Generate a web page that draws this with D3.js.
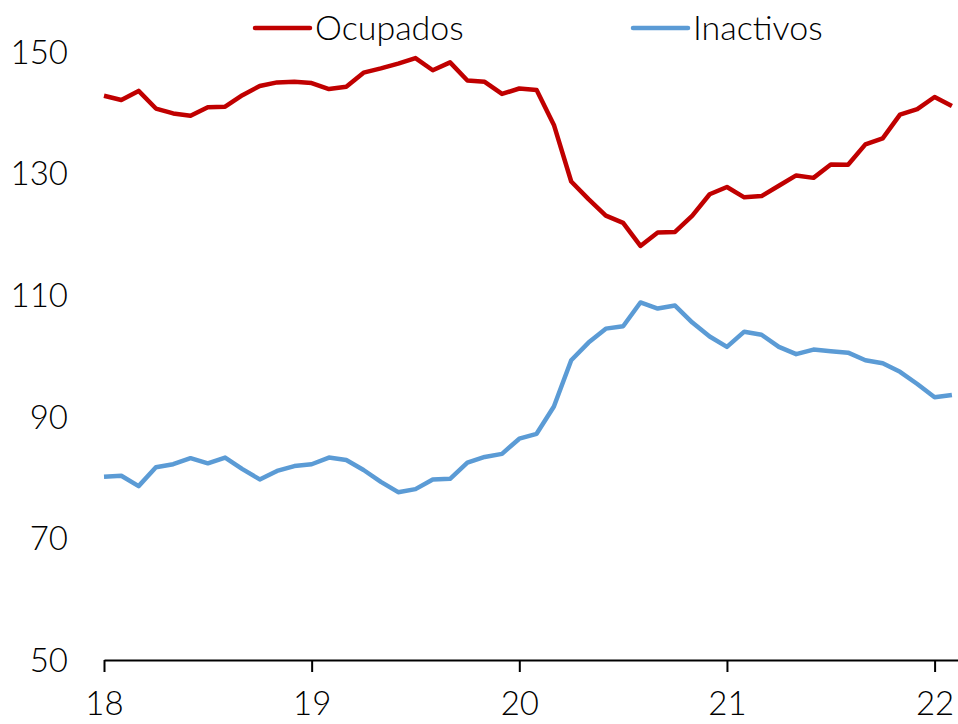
<!DOCTYPE html>
<html>
<head>
<meta charset="utf-8">
<script src="https://cdnjs.cloudflare.com/ajax/libs/d3/7.8.5/d3.min.js"></script>
<style>
  body { margin: 0; background: #fff; }
  text { font-family: Lato, "Open Sans", sans-serif; font-weight: 300; fill: #000; }
</style>
</head>
<body>
<script>
// monthly, Jan 2018 .. Feb 2022
var ocupados = [142.8, 142.1, 143.6, 140.7, 139.9, 139.5, 140.9, 141.0, 142.9, 144.4,
    145.0, 145.1, 144.9, 143.9, 144.3, 146.6, 147.3, 148.1, 149.0, 147.0,
    148.3, 145.3, 145.1, 143.1, 144.0, 143.75, 138.0, 128.7, 125.8, 123.1,
    121.9, 118.1, 120.3, 120.4, 123.1, 126.6, 127.8, 126.1, 126.3, 128.0,
    129.7, 129.3, 131.5, 131.45, 134.8, 135.8, 139.7, 140.6, 142.6, 141.1];
var inactivos = [80.15, 80.3, 78.6, 81.7, 82.2, 83.2, 82.35, 83.3, 81.4, 79.7,
    81.1, 81.9, 82.2, 83.3, 82.9, 81.25, 79.3, 77.6, 78.1, 79.7,
    79.8, 82.45, 83.4, 83.9, 86.4, 87.2, 91.7, 99.3, 102.2, 104.5,
    104.9, 108.8, 107.8, 108.3, 105.5, 103.2, 101.5, 104.0, 103.5, 101.5,
    100.3, 101.05, 100.8, 100.55, 99.3, 98.8, 97.4, 95.4, 93.2, 93.6];
var yTicks = [50, 70, 90, 110, 130, 150];
var xTicks = [18, 19, 20, 21, 22];
var seriesNames = ["Ocupados", "Inactivos"];
var seriesColors = ["#C00000", "#5B9BD5"];

var width = 958, height = 724;

var svg = d3.select("body")
    .append("svg")
    .attr("width", width)
    .attr("height", height);

var x = d3.scaleLinear()
    .domain([18, 18 + (958 - 104) / 207.65])
    .range([104, 958]);

var y = d3.scaleLinear()
    .domain([50, 150])
    .range([660, 52]);

// y labels (no axis line)
svg.append("g")
    .selectAll("text")
    .data(yTicks)
    .enter()
        .append("text")
        .attr("x", 68)
        .attr("y", function(d) { return y(d); })
        .attr("dy", "0.36em")
        .attr("text-anchor", "end")
        .style("font-size", "33px")
        .text(function(d) { return d; });

// x axis
var xAxis = svg.append("g")
    .attr("transform", "translate(0," + y(50) + ")")
    .call(d3.axisBottom(x)
        .tickValues(xTicks)
        .tickFormat(d3.format("d"))
        .tickSize(12).tickPadding(20).tickSizeOuter(0));
xAxis.select(".domain").attr("stroke", "#000").attr("stroke-width", 2);
xAxis.selectAll(".tick line").attr("stroke", "#000").attr("stroke-width", 2);
xAxis.selectAll(".tick text")
    .style("font-size", "33px")
    .style("font-family", "Lato, 'Open Sans', sans-serif")
    .attr("fill", "#000");

var line = d3.line()
    .x(function(d, i) { return x(18 + i / 12); })
    .y(function(d) { return y(d); });

[ocupados, inactivos].forEach(function(s, k) {
    svg.append("path")
        .datum(s)
        .attr("fill", "none")
        .attr("stroke", seriesColors[k])
        .attr("stroke-width", 4.5)
        .attr("stroke-linejoin", "round")
        .attr("d", line);
});

// legend
var legendX = [255, 633];
var legend = svg.append("g")
    .selectAll("g")
    .data(seriesNames)
    .enter()
        .append("g")
        .attr("transform", function(d, i) { return "translate(" + legendX[i] + ",28)"; });
legend.append("line")
    .attr("x1", 0).attr("x2", 55)
    .attr("stroke", function(d, i) { return seriesColors[i]; })
    .attr("stroke-width", 4.5)
    .attr("stroke-linecap", "round");
legend.append("text")
    .attr("x", 60)
    .attr("dy", "0.36em")
    .style("font-size", "34px")
    .text(function(d) { return d; });
</script>
</body>
</html>
